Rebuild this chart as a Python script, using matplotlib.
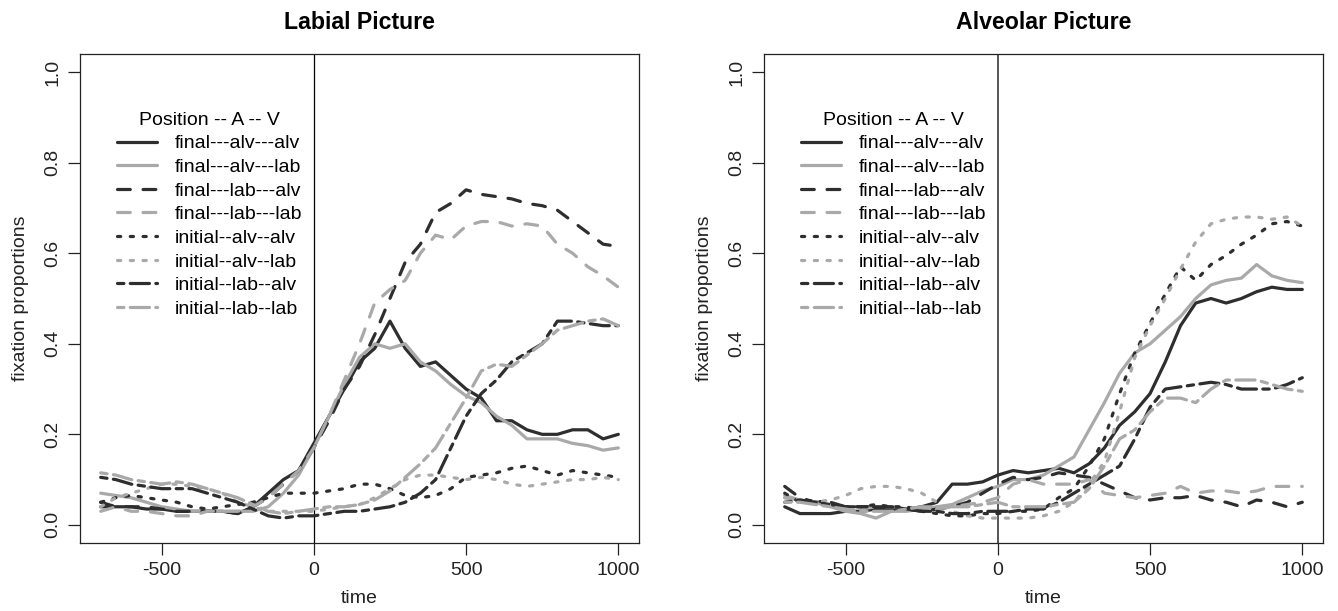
import matplotlib.pyplot as plt
import numpy as np

plt.rcParams['font.family'] = ['Liberation Sans', 'DejaVu Sans']
plt.rcParams['axes.unicode_minus'] = False

# time axis (ms), one value every 50 ms
time = np.arange(-700, 1001, 50)

labels = ['final---alv---alv', 'final---alv---lab', 'final---lab---alv', 'final---lab---lab',
          'initial--alv--alv', 'initial--alv--lab', 'initial--lab--alv', 'initial--lab--lab']

# ---- Labial Picture ----
lab_fin_alv_alv = [0.04, 0.04, 0.04, 0.035, 0.035, 0.03, 0.03, 0.03, 0.03, 0.025, 0.04, 0.07, 0.1, 0.12,
                   0.18, 0.24, 0.3, 0.36, 0.39, 0.45, 0.39, 0.35, 0.36, 0.33, 0.3, 0.28, 0.23, 0.23,
                   0.21, 0.2, 0.2, 0.21, 0.21, 0.19, 0.2]
lab_fin_alv_lab = [0.07, 0.065, 0.06, 0.05, 0.04, 0.035, 0.03, 0.03, 0.03, 0.03, 0.03, 0.04, 0.07, 0.11,
                   0.17, 0.24, 0.31, 0.37, 0.4, 0.39, 0.4, 0.36, 0.34, 0.31, 0.285, 0.27, 0.24, 0.22,
                   0.19, 0.19, 0.19, 0.18, 0.175, 0.165, 0.17]
lab_fin_lab_alv = [0.05, 0.04, 0.04, 0.04, 0.035, 0.03, 0.03, 0.03, 0.03, 0.025, 0.04, 0.06, 0.09, 0.12,
                   0.17, 0.23, 0.3, 0.35, 0.42, 0.5, 0.58, 0.62, 0.69, 0.71, 0.74, 0.73, 0.725, 0.72,
                   0.71, 0.705, 0.695, 0.67, 0.645, 0.62, 0.615]
lab_fin_lab_lab = [0.03, 0.04, 0.03, 0.03, 0.025, 0.02, 0.02, 0.03, 0.03, 0.03, 0.04, 0.06, 0.09, 0.12,
                   0.17, 0.24, 0.32, 0.4, 0.49, 0.52, 0.54, 0.6, 0.64, 0.63, 0.66, 0.67, 0.67, 0.66,
                   0.665, 0.66, 0.62, 0.6, 0.57, 0.55, 0.525]
lab_ini_alv_alv = [0.05, 0.06, 0.065, 0.06, 0.055, 0.05, 0.04, 0.035, 0.04, 0.045, 0.05, 0.06, 0.07, 0.07,
                   0.07, 0.075, 0.08, 0.09, 0.09, 0.08, 0.065, 0.06, 0.065, 0.08, 0.105, 0.11, 0.115, 0.125,
                   0.13, 0.12, 0.11, 0.12, 0.115, 0.11, 0.105]
lab_ini_alv_lab = [0.04, 0.06, 0.07, 0.08, 0.09, 0.09, 0.085, 0.08, 0.07, 0.05, 0.04, 0.03, 0.03, 0.03,
                   0.03, 0.035, 0.04, 0.045, 0.06, 0.08, 0.1, 0.11, 0.11, 0.105, 0.1, 0.105, 0.1, 0.09,
                   0.085, 0.09, 0.095, 0.1, 0.1, 0.105, 0.1]
lab_ini_lab_alv = [0.105, 0.1, 0.09, 0.085, 0.08, 0.08, 0.08, 0.07, 0.06, 0.05, 0.035, 0.02, 0.015, 0.02,
                   0.02, 0.025, 0.03, 0.03, 0.035, 0.04, 0.05, 0.07, 0.1, 0.17, 0.24, 0.29, 0.32, 0.36,
                   0.38, 0.4, 0.45, 0.45, 0.445, 0.44, 0.44]
lab_ini_lab_lab = [0.115, 0.11, 0.1, 0.095, 0.09, 0.095, 0.09, 0.08, 0.07, 0.06, 0.045, 0.03, 0.025, 0.03,
                   0.035, 0.04, 0.04, 0.045, 0.055, 0.075, 0.105, 0.135, 0.17, 0.225, 0.28, 0.34, 0.355, 0.35,
                   0.375, 0.4, 0.43, 0.44, 0.45, 0.455, 0.44]

# ---- Alveolar Picture ----
alv_fin_alv_alv = [0.04, 0.025, 0.025, 0.025, 0.03, 0.03, 0.035, 0.035, 0.035, 0.04, 0.05, 0.09, 0.09, 0.095,
                   0.11, 0.12, 0.115, 0.12, 0.125, 0.115, 0.135, 0.17, 0.22, 0.25, 0.29, 0.36, 0.44, 0.49,
                   0.5, 0.49, 0.5, 0.515, 0.525, 0.52, 0.52]
alv_fin_alv_lab = [0.065, 0.055, 0.05, 0.04, 0.03, 0.025, 0.015, 0.03, 0.03, 0.035, 0.04, 0.045, 0.06, 0.075,
                   0.085, 0.1, 0.1, 0.11, 0.13, 0.15, 0.21, 0.27, 0.335, 0.38, 0.4, 0.43, 0.46, 0.5,
                   0.53, 0.54, 0.545, 0.575, 0.55, 0.54, 0.535]
alv_fin_lab_alv = [0.085, 0.06, 0.05, 0.05, 0.04, 0.04, 0.04, 0.035, 0.035, 0.03, 0.035, 0.04, 0.05, 0.07,
                   0.09, 0.105, 0.1, 0.105, 0.115, 0.11, 0.105, 0.09, 0.075, 0.06, 0.055, 0.06, 0.06, 0.065,
                   0.055, 0.05, 0.04, 0.055, 0.05, 0.04, 0.05]
alv_fin_lab_lab = [0.06, 0.055, 0.05, 0.04, 0.035, 0.035, 0.04, 0.04, 0.04, 0.035, 0.035, 0.04, 0.045, 0.05,
                   0.06, 0.09, 0.1, 0.09, 0.09, 0.09, 0.1, 0.07, 0.065, 0.06, 0.065, 0.07, 0.085, 0.07,
                   0.075, 0.075, 0.07, 0.075, 0.085, 0.085, 0.085]
alv_ini_alv_alv = [0.07, 0.05, 0.055, 0.045, 0.04, 0.04, 0.045, 0.04, 0.04, 0.03, 0.025, 0.02, 0.02, 0.025,
                   0.025, 0.03, 0.03, 0.035, 0.06, 0.08, 0.13, 0.19, 0.29, 0.38, 0.445, 0.51, 0.57, 0.54,
                   0.575, 0.595, 0.62, 0.64, 0.665, 0.67, 0.66]
alv_ini_alv_lab = [0.06, 0.055, 0.05, 0.055, 0.065, 0.08, 0.085, 0.085, 0.08, 0.07, 0.05, 0.03, 0.02, 0.015,
                   0.015, 0.015, 0.015, 0.02, 0.03, 0.05, 0.09, 0.14, 0.25, 0.37, 0.44, 0.5, 0.565, 0.625,
                   0.665, 0.675, 0.68, 0.68, 0.675, 0.68, 0.66]
alv_ini_lab_alv = [0.05, 0.055, 0.05, 0.045, 0.04, 0.04, 0.04, 0.04, 0.035, 0.03, 0.03, 0.025, 0.025, 0.03,
                   0.03, 0.03, 0.035, 0.035, 0.05, 0.07, 0.09, 0.11, 0.13, 0.19, 0.26, 0.3, 0.305, 0.31,
                   0.315, 0.31, 0.3, 0.3, 0.3, 0.31, 0.325]
alv_ini_lab_lab = [0.05, 0.05, 0.045, 0.04, 0.035, 0.03, 0.03, 0.03, 0.035, 0.04, 0.04, 0.04, 0.04, 0.045,
                   0.05, 0.04, 0.04, 0.04, 0.045, 0.05, 0.08, 0.13, 0.19, 0.21, 0.25, 0.28, 0.28, 0.27,
                   0.3, 0.32, 0.32, 0.32, 0.31, 0.3, 0.295]

labial = [lab_fin_alv_alv, lab_fin_alv_lab, lab_fin_lab_alv, lab_fin_lab_lab,
          lab_ini_alv_alv, lab_ini_alv_lab, lab_ini_lab_alv, lab_ini_lab_lab]
alveolar = [alv_fin_alv_alv, alv_fin_alv_lab, alv_fin_lab_alv, alv_fin_lab_lab,
            alv_ini_alv_alv, alv_ini_alv_lab, alv_ini_lab_alv, alv_ini_lab_lab]

dark = '#2e2e2e'
light = '#a9a9a9'
colors = [dark, light] * 4
# R line types: solid, dashed (44), dotted (13), twodash (2262)
dash_styles = [None, None, (4, 4), (4, 4), (1, 3), (1, 3), (2, 2, 6, 2), (2, 2, 6, 2)]

fig = plt.figure(figsize=(13.38, 6.11), dpi=100)
ax1 = fig.add_axes([80 / 1338, 68 / 611, 559 / 1338, 489 / 611])
ax2 = fig.add_axes([764 / 1338, 68 / 611, 559 / 1338, 489 / 611])


def panel(ax, series, title, vcol, vlw):
    ax.axvline(0, color=vcol, lw=vlw)
    for vals, col, ds, lab in zip(series, colors, dash_styles, labels):
        if ds is None:
            ax.plot(time, vals, color=col, lw=2.3, label=lab, solid_capstyle='round')
        else:
            ax.plot(time, vals, color=col, lw=2.3, label=lab, dashes=ds, dash_capstyle='round')
    ax.set_xlim(-768, 1068)
    ax.set_ylim(-0.04, 1.04)
    ax.set_xticks([-500, 0, 500, 1000])
    ax.set_yticks([0.0, 0.2, 0.4, 0.6, 0.8, 1.0])
    ax.set_yticklabels(['0.0', '0.2', '0.4', '0.6', '0.8', '1.0'], rotation=90, va='center')
    ax.tick_params(labelsize=14, length=8.4, width=0.9, pad=5, colors='#222222')
    for s in ax.spines.values():
        s.set_linewidth(0.9)
        s.set_color('#222222')
    ax.set_xlabel('time', fontsize=14, labelpad=8, color='#222222')
    ax.set_ylabel('fixation proportions', fontsize=14, labelpad=11, color='#222222')
    ax.set_title(title, fontsize=16.7, fontweight='bold', pad=18)
    leg = ax.legend(loc='upper left', bbox_to_anchor=(0.066, 0.882), frameon=False,
                    title='Position -- A -- V', fontsize=14, title_fontsize=14,
                    handlelength=2.05, handletextpad=0.9, labelspacing=0.31,
                    borderpad=0, borderaxespad=0)
    leg._legend_box.align = 'center'


panel(ax1, labial, 'Labial Picture', 'black', 0.9)
panel(ax2, alveolar, 'Alveolar Picture', '#555555', 1.4)

fig.savefig('out.png', dpi=100)
